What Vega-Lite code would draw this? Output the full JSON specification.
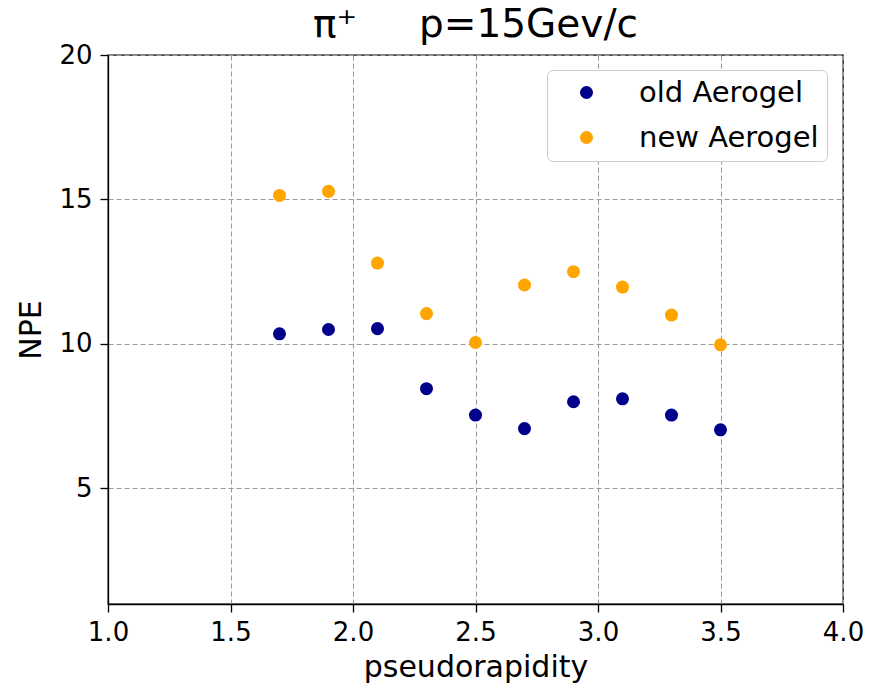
{
  "$schema": "https://vega.github.io/schema/vega-lite/v6.json",
  "width": 735,
  "height": 549,
  "autosize": {"type": "none"},
  "padding": {"left": 108, "top": 55, "right": 31, "bottom": 83},
  "background": "white",
  "title": {
    "text": "π⁺\u00a0\u00a0\u00a0\u00a0\u00a0p=15Gev/c",
    "font": "DejaVu Sans",
    "fontSize": 39,
    "fontWeight": "normal",
    "color": "black",
    "anchor": "middle",
    "offset": -3
  },
  "config": {
    "font": "DejaVu Sans",
    "view": {"stroke": "black", "strokeWidth": 1.3},
    "axis": {
      "labelFont": "DejaVu Sans",
      "titleFont": "DejaVu Sans",
      "labelFontSize": 26,
      "titleFontSize": 30,
      "titleFontWeight": "normal",
      "labelColor": "black",
      "titleColor": "black",
      "labelFlush": false,
      "labelOverlap": false,
      "domainColor": "black",
      "domainWidth": 1.3,
      "tickColor": "black",
      "tickWidth": 1.3,
      "tickSize": 8,
      "gridColor": "#999999",
      "gridDash": [5, 3],
      "gridWidth": 1.1
    }
  },
  "data": {
    "values": [
      {"eta": 1.7, "npe": 10.35, "series": "old Aerogel"},
      {"eta": 1.9, "npe": 10.5, "series": "old Aerogel"},
      {"eta": 2.1, "npe": 10.53, "series": "old Aerogel"},
      {"eta": 2.3, "npe": 8.45, "series": "old Aerogel"},
      {"eta": 2.5, "npe": 7.54, "series": "old Aerogel"},
      {"eta": 2.7, "npe": 7.07, "series": "old Aerogel"},
      {"eta": 2.9, "npe": 8.0, "series": "old Aerogel"},
      {"eta": 3.1, "npe": 8.1, "series": "old Aerogel"},
      {"eta": 3.3, "npe": 7.54, "series": "old Aerogel"},
      {"eta": 3.5, "npe": 7.03, "series": "old Aerogel"},
      {"eta": 1.7, "npe": 15.14, "series": "new Aerogel"},
      {"eta": 1.9, "npe": 15.28, "series": "new Aerogel"},
      {"eta": 2.1, "npe": 12.8, "series": "new Aerogel"},
      {"eta": 2.3, "npe": 11.05, "series": "new Aerogel"},
      {"eta": 2.5, "npe": 10.05, "series": "new Aerogel"},
      {"eta": 2.7, "npe": 12.04, "series": "new Aerogel"},
      {"eta": 2.9, "npe": 12.5, "series": "new Aerogel"},
      {"eta": 3.1, "npe": 11.97, "series": "new Aerogel"},
      {"eta": 3.3, "npe": 11.0, "series": "new Aerogel"},
      {"eta": 3.5, "npe": 9.97, "series": "new Aerogel"}
    ]
  },
  "mark": {"type": "point", "filled": true, "shape": "circle", "size": 170, "opacity": 1},
  "encoding": {
    "x": {
      "field": "eta",
      "type": "quantitative",
      "title": "pseudorapidity",
      "scale": {"domain": [1, 4], "nice": false, "zero": false},
      "axis": {"values": [1, 1.5, 2, 2.5, 3, 3.5, 4], "format": ".1f", "labelPadding": 7, "titlePadding": 7}
    },
    "y": {
      "field": "npe",
      "type": "quantitative",
      "title": "NPE",
      "scale": {"domain": [1, 20], "nice": false, "zero": false},
      "axis": {"values": [5, 10, 15, 20], "labelPadding": 8, "titlePadding": 12}
    },
    "color": {
      "field": "series",
      "type": "nominal",
      "sort": ["old Aerogel", "new Aerogel"],
      "scale": {"domain": ["old Aerogel", "new Aerogel"], "range": ["#00008b", "#ffa500"]},
      "legend": {
        "title": null,
        "orient": "none",
        "legendX": 439,
        "legendY": 15,
        "labelFontSize": 29,
        "labelFont": "DejaVu Sans",
        "labelColor": "black",
        "labelLimit": 400,
        "symbolSize": 170,
        "symbolType": "circle",
        "symbolOpacity": 1,
        "symbolOffset": 17,
        "labelOffset": 38,
        "rowPadding": 15,
        "padding": 8,
        "strokeColor": "#cccccc",
        "cornerRadius": 6,
        "fillColor": "white",
        "offset": 0
      }
    }
  }
}
